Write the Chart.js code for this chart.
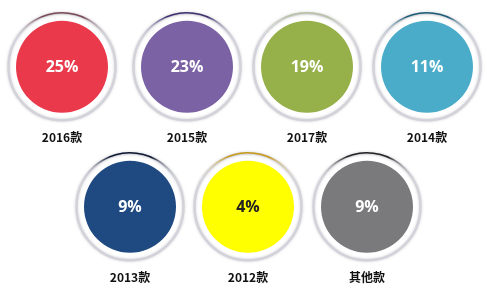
<!DOCTYPE html>
<html>
<head>
<meta charset="utf-8">
<script src="https://cdn.jsdelivr.net/npm/chart.js@4"></script>
<style>
  html, body { margin: 0; padding: 0; background: #fff; }
  #wrap { position: relative; width: 487px; height: 290px; overflow: hidden; }
  .slot { position: absolute; width: 124px; height: 136px; }
</style>
</head>
<body>
<div id="wrap"></div>
<script>
const categories = ['2016款', '2015款', '2017款', '2014款', '2013款', '2012款', '其他款'];
const shares = [25, 23, 19, 11, 9, 4, 9];
const fillColors = ['#e9394b', '#7b62a4', '#96b04a', '#4aacc9', '#1f4a81', '#ffff00', '#7a797c'];
const accentColors = ['#7a4a58', '#3e2e6e', '#b8c2a0', '#1d5c78', '#0c1630', '#c89a18', '#222222'];
const textColors = ['#fff', '#fff', '#fff', '#fff', '#fff', '#222', '#fff'];

// circle centres on the page
const slots = [
  [62, 67], [187, 67], [307, 67], [427, 67],
  [130, 207], [248, 207], [367, 207]
];

const ringPlugin = {
  id: 'ring',
  beforeDatasetsDraw(chart, args, opts) {
    const arc = chart.getDatasetMeta(0).data[0];
    const ctx = chart.ctx;
    const x = arc.x, y = arc.y;
    ctx.save();
    ctx.shadowColor = 'rgba(0,0,0,0.18)';
    ctx.shadowBlur = 3;
    ctx.beginPath();
    ctx.arc(x, y, 53.5, 0, Math.PI * 2);
    ctx.strokeStyle = '#d2d2da';
    ctx.lineWidth = 2.5;
    ctx.stroke();
    ctx.restore();
    // darker arc across the top
    const g = ctx.createLinearGradient(x - 52, 0, x + 52, 0);
    g.addColorStop(0, 'rgba(255,255,255,0)');
    g.addColorStop(0.3, opts.color);
    g.addColorStop(0.7, opts.color);
    g.addColorStop(1, 'rgba(255,255,255,0)');
    ctx.save();
    ctx.beginPath();
    ctx.arc(x, y, 54, Math.PI * 1.08, Math.PI * 1.92);
    ctx.strokeStyle = g;
    ctx.lineWidth = 1.5;
    ctx.stroke();
    ctx.restore();
  },
  afterDatasetsDraw(chart, args, opts) {
    const arc = chart.getDatasetMeta(0).data[0];
    const ctx = chart.ctx;
    ctx.save();
    ctx.font = 'bold 16px "Open Sans"';
    ctx.fillStyle = opts.textColor;
    ctx.textAlign = 'center';
    ctx.textBaseline = 'middle';
    ctx.fillText(chart.data.datasets[0].data[0] + '%', arc.x, arc.y + 1);
    ctx.restore();
  }
};

const wrap = document.getElementById('wrap');
categories.forEach((cat, i) => {
  const div = document.createElement('div');
  div.className = 'slot';
  div.style.left = (slots[i][0] - 62) + 'px';
  div.style.top = (slots[i][1] - 58) + 'px';
  const canvas = document.createElement('canvas');
  canvas.width = 124;
  canvas.height = 136;
  div.appendChild(canvas);
  wrap.appendChild(div);

  new Chart(canvas, {
    type: 'pie',
    data: {
      labels: [cat],
      datasets: [{
        data: [shares[i]],
        backgroundColor: [fillColors[i]],
        borderWidth: 0
      }]
    },
    options: {
      responsive: false,
      animation: false,
      radius: 46,
      layout: { padding: 0 },
      plugins: {
        legend: { display: false },
        tooltip: { enabled: false },
        title: {
          display: true,
          text: cat,
          position: 'bottom',
          color: '#111',
          font: { family: '"Noto Sans CJK SC"', size: 12, weight: 'bold' },
          padding: { top: 6, bottom: 0 }
        },
        ring: { color: accentColors[i], textColor: textColors[i] }
      }
    },
    plugins: [ringPlugin]
  });
});
</script>
</body>
</html>
